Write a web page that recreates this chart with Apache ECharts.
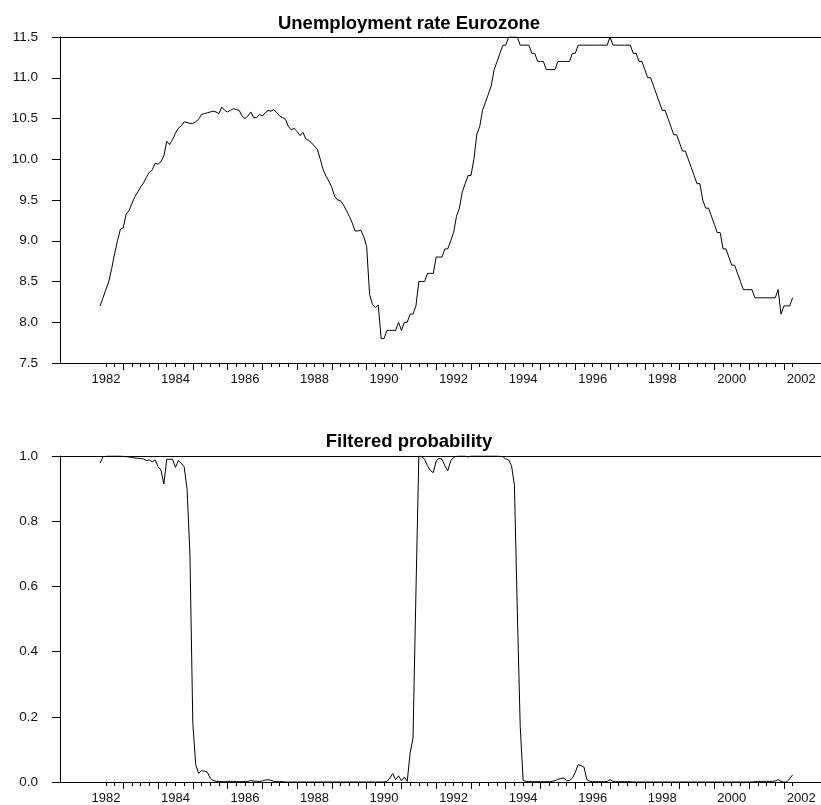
<!DOCTYPE html>
<html>
<head>
<meta charset="utf-8">
<script src="https://cdn.jsdelivr.net/npm/echarts@6/dist/echarts.min.js"></script>
<style>
  html, body { margin: 0; padding: 0; background: #fff; }
  #chart { width: 821px; height: 805px; }
</style>
</head>
<body>
<div id="chart"></div>
<script>
// Monthly observations, May 1982 – April 2002
const startYear = 1982;
const startMonth = 5;

// Unemployment rate, Eurozone (%)
const unemployment = [
  8.2, 8.3, 8.4, 8.5, 8.66, 8.84, 9.0, 9.14, 9.16, 9.33, 9.37, 9.46,
  9.54, 9.6, 9.66, 9.71, 9.78, 9.84, 9.87, 9.95, 9.94, 9.97, 10.04, 10.22,
  10.18, 10.24, 10.32, 10.38, 10.41, 10.46, 10.45, 10.44, 10.44, 10.46, 10.49, 10.55,
  10.56, 10.57, 10.58, 10.59, 10.58, 10.56, 10.64, 10.60, 10.58, 10.60, 10.62, 10.61,
  10.60, 10.53, 10.50, 10.53, 10.58, 10.51, 10.51, 10.55, 10.53, 10.57, 10.60, 10.59,
  10.61, 10.57, 10.53, 10.51, 10.49, 10.40, 10.36, 10.38, 10.34, 10.29, 10.33, 10.25,
  10.23, 10.20, 10.16, 10.12, 10.00, 9.87, 9.79, 9.73, 9.65, 9.54, 9.50, 9.49,
  9.44, 9.37, 9.30, 9.22, 9.12, 9.12, 9.13, 9.05, 8.93, 8.34, 8.22, 8.18,
  8.21, 7.8, 7.8, 7.9, 7.9, 7.9, 7.9, 8.0, 7.9, 8.0, 8.0, 8.1,
  8.1, 8.2, 8.5, 8.5, 8.5, 8.6, 8.6, 8.6, 8.8, 8.8, 8.8, 8.9,
  8.9, 9.0, 9.1, 9.3, 9.4, 9.6, 9.7, 9.8, 9.8, 10.0, 10.3, 10.4,
  10.6, 10.7, 10.8, 10.9, 11.1, 11.2, 11.3, 11.4, 11.4, 11.5, 11.5, 11.5,
  11.5, 11.4, 11.4, 11.4, 11.4, 11.3, 11.3, 11.2, 11.2, 11.2, 11.1, 11.1,
  11.1, 11.1, 11.2, 11.2, 11.2, 11.2, 11.2, 11.3, 11.3, 11.4, 11.4, 11.4,
  11.4, 11.4, 11.4, 11.4, 11.4, 11.4, 11.4, 11.4, 11.5, 11.4, 11.4, 11.4,
  11.4, 11.4, 11.4, 11.4, 11.3, 11.3, 11.2, 11.2, 11.1, 11.0, 11.0, 10.9,
  10.8, 10.7, 10.6, 10.6, 10.5, 10.4, 10.3, 10.3, 10.2, 10.1, 10.1, 10.0,
  9.9, 9.8, 9.7, 9.7, 9.5, 9.4, 9.4, 9.3, 9.2, 9.1, 9.1, 8.9,
  8.9, 8.8, 8.7, 8.7, 8.6, 8.5, 8.4, 8.4, 8.4, 8.4, 8.3, 8.3,
  8.3, 8.3, 8.3, 8.3, 8.3, 8.3, 8.4, 8.1, 8.2, 8.2, 8.2, 8.3
];

// Filtered probability of the high-growth regime
const probability = [
  0.978, 0.998, 0.999, 1.0, 1.0, 1.0, 1.0, 1.0, 0.999, 0.998, 0.997, 0.996,
  0.994, 0.993, 0.992, 0.991, 0.986, 0.988, 0.982, 0.988, 0.967, 0.957, 0.914, 0.99,
  0.99, 0.99, 0.965, 0.986, 0.978, 0.967, 0.90, 0.70, 0.18, 0.053, 0.026, 0.035,
  0.033, 0.030, 0.012, 0.005, 0.002, 0.002, 0.001, 0.001, 0.002, 0.002, 0.002, 0.001,
  0.001, 0.001, 0.002, 0.002, 0.004, 0.003, 0.002, 0.002, 0.003, 0.006, 0.007, 0.005,
  0.002, 0.001, 0.001, 0.001, 0, 0, 0, 0, 0, 0, 0, 0,
  0, 0, 0, 0, 0, 0, 0, 0, 0, 0, 0, 0,
  0, 0, 0, 0, 0, 0, 0, 0, 0, 0, 0, 0,
  0, 0, 0, 0.002, 0.012, 0.026, 0.007, 0.019, 0.004, 0.015, 0.002, 0.089,
  0.135, 0.58, 1.0, 0.998, 0.99, 0.97, 0.955, 0.949, 0.985, 0.993, 0.99, 0.97,
  0.955, 0.985, 0.996, 0.999, 1.0, 1.0, 1.0, 0.997, 1.0, 1.0, 1.0, 1.0,
  1.0, 1.0, 1.0, 1.0, 1.0, 1.0, 0.999, 0.998, 0.991, 0.988, 0.97, 0.91,
  0.52, 0.17, 0.005, 0.002, 0.001, 0.001, 0.001, 0.001, 0.001, 0.001, 0.001, 0.001,
  0.002, 0.004, 0.008, 0.011, 0.012, 0.004, 0.004, 0.012, 0.03, 0.053, 0.05, 0.046,
  0.007, 0.002, 0.001, 0.001, 0.001, 0.001, 0.001, 0.002, 0.007, 0.002, 0.001, 0.001,
  0.001, 0.001, 0.001, 0.001, 0, 0, 0, 0, 0, 0, 0, 0,
  0, 0, 0, 0, 0, 0, 0, 0, 0, 0, 0, 0,
  0, 0, 0, 0, 0, 0, 0, 0, 0, 0, 0, 0,
  0, 0, 0, 0, 0, 0, 0, 0, 0, 0, 0.001, 0.002,
  0.002, 0.002, 0.002, 0.002, 0.002, 0.003, 0.007, 0.002, 0, 0, 0.01, 0.022
];

// Year labels on the time axis (each centred on its year)
const yearLabels = [1982, 1984, 1986, 1988, 1990, 1992, 1994, 1996, 1998, 2000, 2002];

const panelTitles = ['Unemployment rate Eurozone', 'Filtered probability'];

// ---- time coordinates in decimal years ----
const tStart = startYear + (startMonth - 1) / 12;
const tOf = i => tStart + i / 12;
const tEnd = tOf(unemployment.length - 1);

const quarterTicks = [];
for (let q = Math.ceil(tStart * 4 - 1e-9); q <= Math.floor(tEnd * 4 + 1e-9); q++) quarterTicks.push(q / 4);
const yearTicks = [];
for (let y = Math.ceil(tStart - 1e-9); y <= Math.floor(tEnd + 1e-9); y++) yearTicks.push(y);
const labelPositions = yearLabels.map(y => y + 0.5);

const unempData = unemployment.map((v, i) => [tOf(i), v]);
const probData = probability.map((v, i) => [tOf(i), v]);

const FONT = 'Liberation Sans, Arial, Helvetica, sans-serif';
const X_MIN = 1981.18, X_MAX = 2003.067;
const black = '#000';

function timeAxes(gridIndex) {
  const base = { type: 'value', gridIndex, min: X_MIN, max: X_MAX, splitLine: { show: false } };
  return [
    Object.assign({}, base, {
      position: 'bottom',
      axisLine: { show: true, onZero: false, lineStyle: { color: black, width: 1 } },
      axisTick: { show: true, inside: false, length: 4, customValues: quarterTicks, lineStyle: { color: black, width: 1 } },
      axisLabel: {
        show: true, customValues: labelPositions, margin: 10,
        color: '#111', fontSize: 13, fontFamily: FONT,
        formatter: v => String(Math.floor(v))
      }
    }),
    Object.assign({}, base, {
      position: 'bottom',
      axisLine: { show: false },
      axisTick: { show: true, inside: false, length: 7, customValues: yearTicks, lineStyle: { color: black, width: 1 } },
      axisLabel: { show: false }
    }),
    Object.assign({}, base, {
      position: 'top',
      axisLine: { show: true, onZero: false, lineStyle: { color: black, width: 1 } },
      axisTick: { show: false },
      axisLabel: { show: false }
    })
  ];
}

function valueAxis(gridIndex, min, max, interval) {
  return {
    type: 'value', gridIndex, min, max, interval, position: 'left',
    axisLine: { show: true, onZero: false, lineStyle: { color: black, width: 1 } },
    axisTick: { show: true, inside: false, length: 8, lineStyle: { color: black, width: 1 } },
    axisLabel: { show: true, margin: 22, color: '#111', fontSize: 13.5, fontFamily: FONT, formatter: v => v.toFixed(1) },
    splitLine: { show: false }
  };
}

const chart = echarts.init(document.getElementById('chart'), null, { renderer: 'canvas' });
chart.setOption({
  animation: false,
  backgroundColor: '#fff',
  title: [
    { text: panelTitles[0], left: 404, top: 9, textAlign: 'center',
      textStyle: { fontFamily: FONT, fontWeight: 'bold', fontSize: 18.5, color: black } },
    { text: panelTitles[1], left: 404, top: 427.5, textAlign: 'center',
      textStyle: { fontFamily: FONT, fontWeight: 'bold', fontSize: 18.5, color: black } }
  ],
  grid: [
    { left: 60, top: 37, width: 761, height: 326 },
    { left: 60, top: 456, width: 761, height: 326 }
  ],
  xAxis: timeAxes(0).concat(timeAxes(1)),
  yAxis: [valueAxis(0, 7.5, 11.5, 0.5), valueAxis(1, 0, 1, 0.2)],
  series: [
    { type: 'line', xAxisIndex: 0, yAxisIndex: 0, data: unempData, showSymbol: false, symbol: 'none',
      lineStyle: { color: black, width: 1 }, silent: true },
    { type: 'line', xAxisIndex: 3, yAxisIndex: 1, data: probData, showSymbol: false, symbol: 'none',
      lineStyle: { color: black, width: 1 }, silent: true }
  ]
});
</script>
</body>
</html>
